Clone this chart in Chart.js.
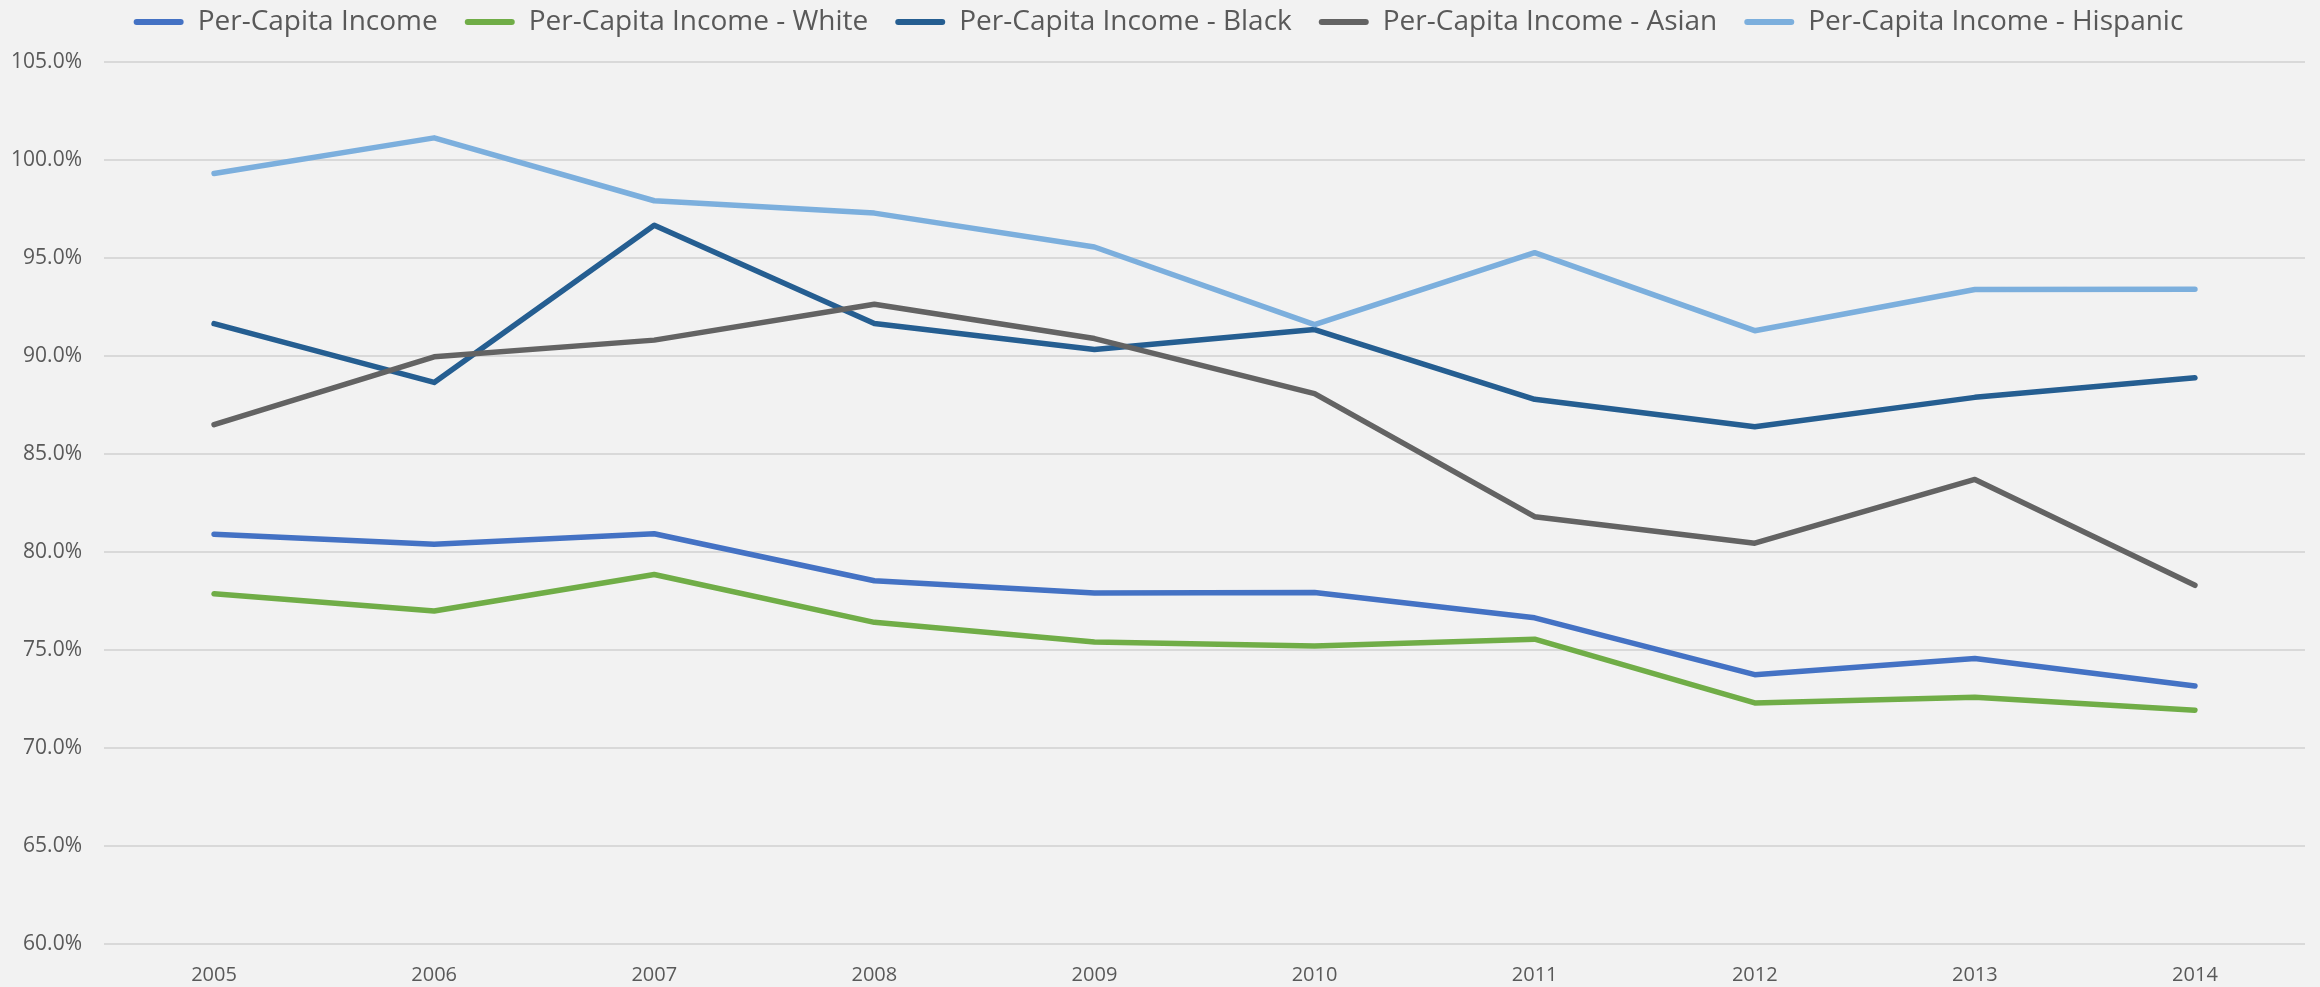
<!DOCTYPE html>
<html>
<head>
<meta charset="utf-8">
<script src="https://cdn.jsdelivr.net/npm/chart.js@4.4.1/dist/chart.umd.min.js"></script>
<style>
  html, body { margin: 0; padding: 0; background: #f2f2f2; }
  #wrap { width: 2320px; height: 987px; }
</style>
</head>
<body>
<div id="wrap"><canvas id="c" width="2320" height="987"></canvas></div>
<script>
const years = ['2005','2006','2007','2008','2009','2010','2011','2012','2013','2014'];
const perCapita         = [80.91, 80.39, 80.93, 78.53, 77.91, 77.93, 76.64, 73.74, 74.57, 73.16];
const perCapitaWhite    = [77.87, 76.99, 78.85, 76.41, 75.41, 75.20, 75.55, 72.30, 72.59, 71.93];
const perCapitaBlack    = [91.65, 88.65, 96.67, 91.66, 90.33, 91.35, 87.79, 86.39, 87.89, 88.89];
const perCapitaAsian    = [86.50, 89.96, 90.81, 92.64, 90.89, 88.08, 81.80, 80.45, 83.70, 78.30];
const perCapitaHispanic = [99.31, 101.13, 97.92, 97.29, 95.56, 91.60, 95.27, 91.29, 93.39, 93.41];
const seriesNames = ['Per-Capita Income', 'Per-Capita Income - White', 'Per-Capita Income - Black', 'Per-Capita Income - Asian', 'Per-Capita Income - Hispanic'];
const seriesColors = ['#4472c4', '#70ad47', '#255e91', '#636363', '#7cafdd'];
const yMin = 60, yMax = 105, yStep = 5;

const seriesData = [perCapita, perCapitaWhite, perCapitaBlack, perCapitaAsian, perCapitaHispanic];
const datasets = seriesData.map((d, i) => ({
  label: seriesNames[i],
  data: d,
  borderColor: seriesColors[i],
  backgroundColor: seriesColors[i],
  borderWidth: 5.5,
  borderCapStyle: 'round',
  borderJoinStyle: 'round',
  pointRadius: 0,
  pointHoverRadius: 0,
  tension: 0,
  fill: false,
  order: seriesData.length - i
}));

const LEGEND_H = 81;
const legendPatch = {
  id: 'legendPatch',
  beforeLayout(chart) {
    const lg = chart.legend;
    if (lg && !lg._patched) {
      const f = lg.fit;
      lg.fit = function() { f.call(this); this.height = LEGEND_H; };
      lg._patched = true;
    }
  }
};
const bgPlugin = {
  id: 'bg',
  beforeDraw(chart) {
    const ctx = chart.ctx;
    ctx.save();
    ctx.fillStyle = '#f2f2f2';
    ctx.fillRect(0, 0, chart.width, chart.height);
    ctx.restore();
  }
};

const FONT = '"Open Sans", "Noto Sans", sans-serif';

new Chart(document.getElementById('c'), {
  type: 'line',
  data: { labels: years, datasets },
  plugins: [legendPatch, bgPlugin],
  options: {
    responsive: false,
    animation: false,
    layout: { padding: { top: -19, left: 12, right: 15, bottom: 1 } },
    plugins: {
      tooltip: { enabled: false },
      legend: {
        position: 'top',
        align: 'center',
        labels: {
          color: '#595959',
          font: { family: FONT, size: 28 },
          boxWidth: 50,
          boxHeight: 6,
          useBorderRadius: true,
          borderRadius: 3,
          padding: 27,
          sort: (a, b) => a.datasetIndex - b.datasetIndex,
          generateLabels(chart) {
            const items = Chart.defaults.plugins.legend.labels.generateLabels(chart);
            items.forEach(it => { it.lineWidth = 0; });
            return items;
          }
        }
      }
    },
    scales: {
      x: {
        offset: true,
        grid: { display: false, drawTicks: false },
        border: { display: false },
        afterFit: s => { s.height = 42; },
        ticks: {
          color: '#595959',
          font: { family: FONT, size: 20 },
          padding: 19,
          maxRotation: 0
        }
      },
      y: {
        min: yMin,
        max: yMax,
        grid: { color: '#d9d9d9', lineWidth: 2, drawTicks: false },
        border: { display: false },
        afterFit: s => { s.width = 92; },
        ticks: {
          stepSize: yStep,
          color: '#595959',
          font: { family: FONT, size: 21 },
          padding: 22,
          callback: v => v.toFixed(1) + '%'
        }
      }
    }
  }
});
</script>
</body>
</html>
